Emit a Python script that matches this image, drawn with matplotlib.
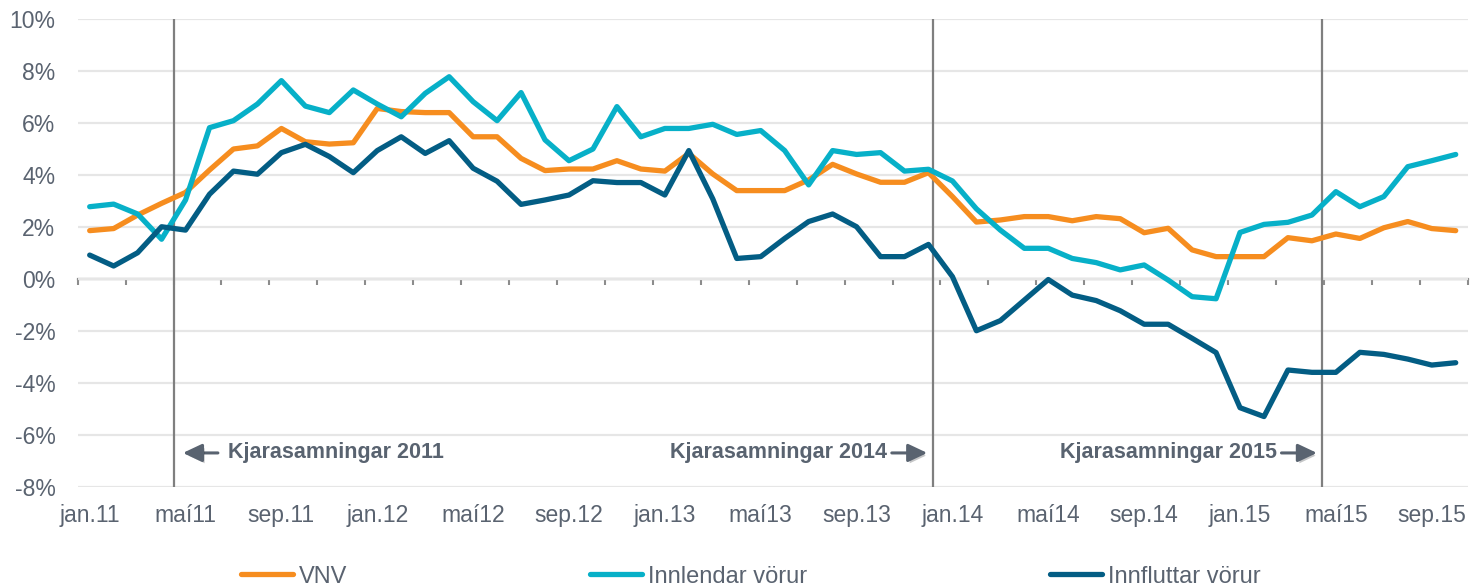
import matplotlib; matplotlib.use('Agg')
import matplotlib.pyplot as plt
import matplotlib.patheffects as pe
import numpy as np

plt.rcParams.update({'font.family': ['Liberation Sans', 'DejaVu Sans'], 'font.size': 16.5})

ORANGE, TEAL, NAVY = '#f68d1f', '#07b0c8', '#035d84'
TXT, VLINE, GRID, AXIS = '#5a6370', '#7f7f7f', '#e6e6e6', '#8c8c8c'

# ── data: monthly 12-month change (%), jan.11 .. okt.15 ─────────────────────
vnv = [1.86, 1.94, 2.46, 2.91, 3.33, 4.19, 5.00, 5.12, 5.79, 5.28, 5.19, 5.24,
       6.56, 6.44, 6.40, 6.40, 5.47, 5.47, 4.64, 4.17, 4.23, 4.23, 4.55, 4.23,
       4.15, 4.83, 4.04, 3.40, 3.40, 3.40, 3.81, 4.41, 4.04, 3.72, 3.72, 4.09,
       3.17, 2.19, 2.27, 2.40, 2.40, 2.24, 2.40, 2.32, 1.78, 1.95, 1.12, 0.86,
       0.86, 0.86, 1.59, 1.47, 1.73, 1.56, 1.97, 2.21, 1.94, 1.86]
innlendar = [2.78, 2.88, 2.50, 1.53, 3.04, 5.82, 6.09, 6.73, 7.63, 6.65, 6.40, 7.27,
             6.73, 6.24, 7.14, 7.78, 6.82, 6.09, 7.17, 5.35, 4.55, 5.00, 6.63, 5.47,
             5.79, 5.79, 5.95, 5.56, 5.71, 4.94, 3.62, 4.94, 4.79, 4.86, 4.15, 4.22,
             3.77, 2.70, 1.88, 1.18, 1.18, 0.79, 0.63, 0.35, 0.54, -0.04, -0.68, -0.76,
             1.79, 2.10, 2.18, 2.46, 3.36, 2.78, 3.17, 4.32, 4.55, 4.79]
innfluttar = [0.92, 0.50, 1.01, 2.01, 1.88, 3.26, 4.15, 4.03, 4.86, 5.18, 4.71, 4.09,
              4.94, 5.47, 4.83, 5.32, 4.26, 3.76, 2.87, 3.04, 3.23, 3.78, 3.71, 3.71,
              3.23, 4.94, 3.08, 0.79, 0.86, 1.56, 2.21, 2.50, 2.01, 0.86, 0.86, 1.33,
              0.09, -1.99, -1.60, -0.81, -0.02, -0.62, -0.83, -1.22, -1.74, -1.74, -2.28, -2.83,
              -4.95, -5.29, -3.50, -3.59, -3.59, -2.82, -2.90, -3.08, -3.31, -3.22]
series = ['VNV', 'Innlendar vörur', 'Innfluttar vörur']

tick_labels = ['jan.11', 'maí11', 'sep.11', 'jan.12', 'maí12', 'sep.12', 'jan.13', 'maí13',
               'sep.13', 'jan.14', 'maí14', 'sep.14', 'jan.15', 'maí15', 'sep.15']

# wage agreements: marker position (category units) and label
events = [3.5, 35.17, 51.43]
event_labels = ['Kjarasamningar 2011', 'Kjarasamningar 2014', 'Kjarasamningar 2015']

x = np.arange(len(vnv))
ymin, ymax = -8, 10

fig = plt.figure(figsize=(14.72, 5.86), dpi=100)
ax = fig.add_axes([77.7 / 1472, 1 - 487 / 586, 1390 / 1472, 468 / 586])

lines = []
for vals, col, name in zip([vnv, innlendar, innfluttar], [ORANGE, TEAL, NAVY], series):
    ln, = ax.plot(x, vals, color=col, lw=3.8, label=name, zorder=3,
                  solid_capstyle='round', solid_joinstyle='round')
    lines.append(ln)

ax.set_xlim(-0.5, len(vnv) - 0.5)
ax.set_ylim(ymin, ymax)
ax.set_yticks(np.arange(ymin, ymax + 1, 2))
ax.set_yticklabels([f'{v}%' for v in range(ymin, ymax + 1, 2)])
ax.set_xticks(x[::4])
ax.set_xticklabels(tick_labels)
ax.tick_params(axis='both', length=0, colors=TXT, labelsize=16.5)
ax.tick_params(axis='x', pad=12)
ax.tick_params(axis='y', pad=16)
for s in ax.spines.values():
    s.set_visible(False)
ax.yaxis.grid(True, color=GRID, lw=1.6)
ax.set_axisbelow(True)

# zero line with category tick marks
sec = ax.secondary_xaxis((0 - ymin) / (ymax - ymin))
sec.set_xticks(np.arange(-0.5, len(vnv), 2))
sec.tick_params(direction='out', length=4, width=1.5, color=AXIS, labelbottom=False)
sec.spines['bottom'].set_color(AXIS)
sec.spines['bottom'].set_linewidth(1.6)

# vertical event lines + labels with arrows
y_note = -6.69
for i, (ev, lab) in enumerate(zip(events, event_labels)):
    ax.axvline(ev, color=VLINE, lw=1.6, zorder=1.5)
    if i == 0:
        head, tail, tx, ha = ev + 0.39, ev + 1.85, ev + 2.27, 'left'
    else:
        head, tail, tx, ha = ev - 0.22, ev - 1.7, ev - 1.9, 'right'
    ax.text(tx, y_note, lab, ha=ha, va='center', fontsize=15.5,
            fontweight='bold', color='#596370')
    ann = ax.annotate('', xy=(head, y_note), xytext=(tail, y_note),
                      arrowprops=dict(arrowstyle='-|>,head_length=0.7,head_width=0.33',
                                      color='#596370', lw=2.2, shrinkA=0, shrinkB=0))
    ann.arrow_patch.set_path_effects([pe.SimplePatchShadow(offset=(1.5, -2), alpha=0.25),
                                      pe.Normal()])

fig.legend(handles=lines, loc='center', bbox_to_anchor=(0.51, 0.016), ncol=3,
           frameon=False, handlelength=2.2, handletextpad=0.25, columnspacing=10.3,
           fontsize=17, labelcolor=TXT)

fig.savefig('out.png', dpi=100)
plt.close(fig)
